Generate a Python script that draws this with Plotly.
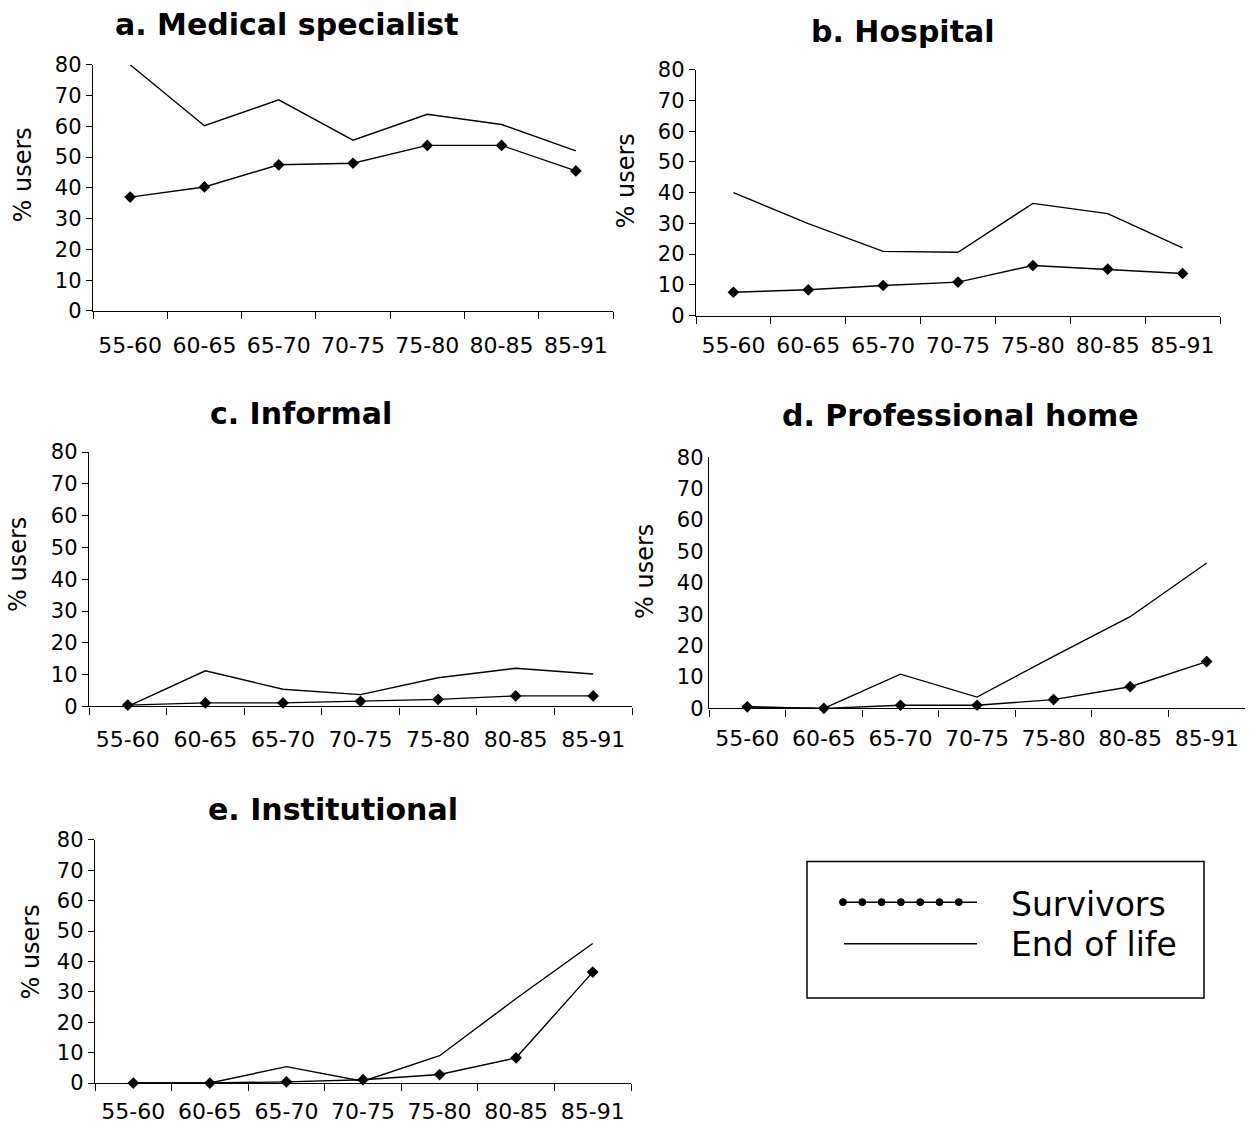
import plotly.graph_objects as go

W, H = 1249, 1133

categories = ["55-60", "60-65", "65-70", "70-75", "75-80", "80-85", "85-91"]

med_surv = [37, 40.3, 47.5, 48, 53.8, 53.8, 45.5]
med_eol = [80, 60.2, 68.6, 55.5, 63.9, 60.6, 52]
hosp_surv = [7.6, 8.4, 9.8, 10.9, 16.3, 15.1, 13.7]
hosp_eol = [40, 29.9, 20.9, 20.6, 36.5, 33.2, 22]
inf_surv = [0.4, 1.1, 1.1, 1.6, 2.2, 3.3, 3.3]
inf_eol = [0, 11.2, 5.4, 3.7, 9, 12, 10.2]
prof_surv = [0.5, 0, 1, 1, 2.8, 6.9, 14.9]
prof_eol = [0.5, 0, 10.9, 3.6, 16.6, 29.2, 46.3]
inst_surv = [0, 0, 0.4, 1.1, 2.8, 8.3, 36.5]
inst_eol = [0, 0, 5.4, 0.6, 9, 27.8, 45.9]

titles = ["a. Medical specialist", "b. Hospital", "c. Informal",
          "d. Professional home", "e. Institutional"]
y_title = "% users"
legend_names = ["Survivors", "End of life"]


def px(x):
    return x / W


def py(y):
    y = 566 + (y - 566) * 1.01
    return 1 - y / H


# panel geometry in pixels: (x0, x1, ytop, ybottom)
panels = [
    (93, 613, 59, 308),
    (696, 1220, 64, 312.7),
    (89, 632, 450.7, 708),
    (709, 1245, 456, 710),
    (95, 631, 843, 1089),
]
title_pos = [(287, 18), (903, 25), (301, 412), (960, 414), (333, 812)]
ytitle_pos = [(23, 171), (626, 177), (18, 565), (645, 572), (31, 957)]
label_standoff = [14, 10, 13, 10, 8]
y_ticks_on = [True, True, True, False, True]

series = [(med_surv, med_eol), (hosp_surv, hosp_eol), (inf_surv, inf_eol),
          (prof_surv, prof_eol), (inst_surv, inst_eol)]

FONT = "DejaVu Sans"
fig = go.Figure()
layout = dict(
    width=W, height=H,
    margin=dict(l=0, r=0, t=0, b=0),
    paper_bgcolor="white", plot_bgcolor="white",
    showlegend=False,
    font=dict(family=FONT, color="black"),
)
annotations = []
shapes = []

for i, ((x0, x1, yt, yb), (surv, eol)) in enumerate(zip(panels, series)):
    n = "" if i == 0 else str(i + 1)
    xa, ya = "x" + n, "y" + n
    fig.add_trace(go.Scatter(x=categories, y=eol, mode="lines", xaxis=xa, yaxis=ya,
                             line=dict(color="black", width=1.4), cliponaxis=False,
                             name=legend_names[1]))
    fig.add_trace(go.Scatter(x=categories, y=surv, mode="lines+markers", xaxis=xa, yaxis=ya,
                             line=dict(color="black", width=1.4), cliponaxis=False,
                             marker=dict(symbol="diamond", size=9, color="black"),
                             name=legend_names[0]))
    layout["xaxis" + n] = dict(
        domain=[px(x0), px(x1)], anchor=ya, type="category",
        categoryorder="array", categoryarray=categories,
        range=[-0.5, 6.5], showline=True, linecolor="black", linewidth=1.4,
        ticks="outside", ticklen=7, tickcolor="black", tickwidth=1.4,
        tickson="boundaries", showgrid=False, zeroline=False, tickangle=0,
        tickfont=dict(family=FONT, size=22, color="black"),
        ticklabelstandoff=label_standoff[i],
    )
    layout["yaxis" + n] = dict(
        domain=[py(yb), py(yt)], anchor=xa, range=[0, 80], dtick=10,
        showline=True, linecolor="black", linewidth=1.4,
        ticks="outside" if y_ticks_on[i] else "", ticklen=6, tickcolor="black",
        tickwidth=1.4, showgrid=False, zeroline=False,
        tickfont=dict(family=FONT, size=21, color="black"),
    )
    tx, ty = title_pos[i]
    annotations.append(dict(text="<b>" + titles[i] + "</b>", x=px(tx), y=py(ty),
                            xref="paper", yref="paper", showarrow=False,
                            xanchor="center", yanchor="middle",
                            font=dict(family=FONT, size=30, color="black")))
    ax_, ay_ = ytitle_pos[i]
    annotations.append(dict(text=y_title, x=px(ax_), y=py(ay_), xref="paper", yref="paper",
                            showarrow=False, textangle=-90, xanchor="center",
                            yanchor="middle",
                            font=dict(family=FONT, size=24, color="black")))

# custom legend box
LY = 4
shapes.append(dict(type="rect", xref="paper", yref="paper",
                   x0=px(807), x1=px(1204), y0=py(999 + LY), y1=py(861 + LY),
                   line=dict(color="black", width=1.5), fillcolor="white"))
shapes.append(dict(type="line", xref="paper", yref="paper",
                   x0=px(842), x1=px(977), y0=py(902 + LY), y1=py(902 + LY),
                   line=dict(color="black", width=1.5)))
for k in range(7):
    cx = 843 + k * 19.3
    shapes.append(dict(type="circle", xref="paper", yref="paper",
                       x0=px(cx - 3.5), x1=px(cx + 3.5),
                       y0=py(902 + LY + 3.5), y1=py(902 + LY - 3.5),
                       line=dict(color="black", width=1), fillcolor="black"))
shapes.append(dict(type="line", xref="paper", yref="paper",
                   x0=px(844), x1=px(977), y0=py(944 + LY), y1=py(944 + LY),
                   line=dict(color="black", width=1.5)))
for name, yy in zip(legend_names, [904, 945]):
    annotations.append(dict(text=name, x=px(1009), y=py(yy + LY), xref="paper", yref="paper",
                            showarrow=False, xanchor="left", yanchor="middle",
                            font=dict(family=FONT, size=33, color="black")))

layout["annotations"] = annotations
layout["shapes"] = shapes
fig.update_layout(**layout)
fig.write_html(
    "out.html",
    config={"displayModeBar": False},
    post_script="document.body.style.margin='0';document.body.style.overflow='hidden';",
)
